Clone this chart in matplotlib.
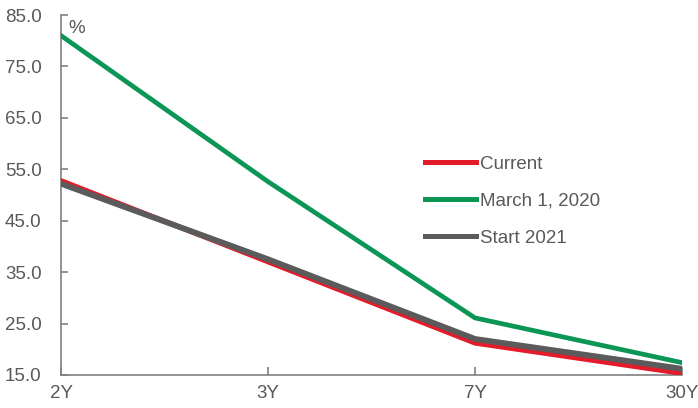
import matplotlib
matplotlib.use("Agg")
import matplotlib.pyplot as plt

plt.rcParams['font.family'] = ['Liberation Sans', 'DejaVu Sans']

tenors = ["2Y", "3Y", "7Y", "30Y"]
current = [52.8, 37.0, 21.2, 15.3]
march_2020 = [81.0, 52.6, 26.1, 17.4]
start_2021 = [52.2, 37.5, 22.0, 16.2]

TEXT = "#595959"
RED = "#E31B2A"
GREEN = "#0B9656"
GREY = "#5B5B5B"
FS = 13.5

fig = plt.figure(figsize=(6.98, 4.08), dpi=100)
ax = fig.add_axes([0.0874, 0.0809, 0.8897, 0.8823])

x = range(len(tenors))
ax.plot(x, current, color=RED, lw=3.6, label="Current", zorder=3)
ax.plot(x, march_2020, color=GREEN, lw=3.4, label="March 1, 2020", zorder=5)
ax.plot(x, start_2021, color=GREY, lw=4.2, label="Start 2021", zorder=4)

ax.set_xlim(0, len(tenors) - 1)
ax.set_ylim(15, 85)
ax.set_yticks(range(15, 86, 10))
ax.set_yticklabels([f"{v:.1f}" for v in range(15, 86, 10)])
ax.set_xticks(list(x))
ax.set_xticklabels(tenors)

for s in ("top", "right"):
    ax.spines[s].set_visible(False)
for s in ("left", "bottom"):
    ax.spines[s].set_color("#808080")
    ax.spines[s].set_linewidth(1.2)

ax.tick_params(axis="both", direction="in", color="#808080", width=1.2,
               labelcolor=TEXT, labelsize=FS)
ax.tick_params(axis="y", length=5, pad=14)
ax.tick_params(axis="x", length=6, pad=7)

ax.text(0.012, 0.985, "%", transform=ax.transAxes, ha="left", va="top",
        color=TEXT, fontsize=FS)

leg = ax.legend(loc="upper left", bbox_to_anchor=(0.559, 0.656), frameon=False,
                fontsize=FS, handlelength=2.7, handletextpad=0.25,
                labelspacing=1.06, labelcolor=TEXT)
for h in leg.get_lines():
    h.set_linewidth(3.6)

fig.savefig("out.png", dpi=100)
